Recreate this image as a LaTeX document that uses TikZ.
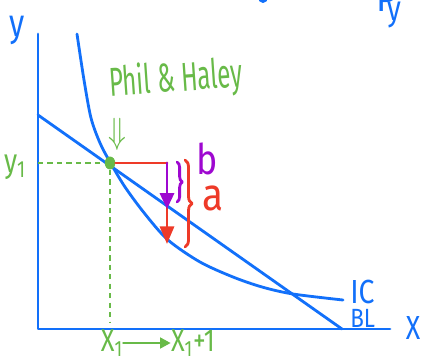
\documentclass[tikz,border=0pt]{standalone}
\usepackage{graphicx}
\usepackage{fontspec}
\setmainfont{Fira Sans}
\usetikzlibrary{arrows.meta, shapes.geometric, decorations.pathreplacing}
\definecolor{penBlue}{RGB}{18,112,250}
\definecolor{penGreen}{RGB}{104,186,72}
\definecolor{penRed}{RGB}{238,58,40}
\definecolor{penPurple}{RGB}{158,8,208}
\newcommand{\hand}[2]{\scalebox{#1}[1]{#2}}

\begin{document}
\begin{tikzpicture}[x=0.02cm, y=-0.02cm,
  pen/.style={line width=1.6pt, line cap=round, line join=round},
  guide/.style={penGreen, line width=1.4pt, dash pattern=on 3pt off 2.4pt},
  lbl/.style={inner sep=0pt, font=\fontsize{#1}{#1}\selectfont},
  lbl/.default=18]
\useasboundingbox (0,0) rectangle (422,361);
\clip (0,0) rectangle (422,361);
% axes
\coordinate (origin) at (38,329);
\coordinate (ytop) at (38,34);
\coordinate (xend) at (390,329);
\draw[pen, penBlue] (ytop) -- (origin) -- (xend);
\node[lbl=22, penBlue] (ylab) at (17,30) {\hand{0.8}{y}};
\node[lbl=19, penBlue] (xlab) at (413,328) {\hand{0.8}{X}};
% cut-off text at the top
\node[lbl=20, penBlue, anchor=base west] (pcut) at (376,12) {P};
\node[lbl=20, penBlue, anchor=base west] (ycut) at (387,21) {\hand{0.8}{y}};
\draw[pen, penBlue] (260,0) to[bend right=60] (266,0);
% budget line and indifference curve
\coordinate (bl0) at (38,115);
\coordinate (bl1) at (342,329);
\draw[pen, penBlue] (bl0) -- (bl1);
\draw[pen, penBlue] plot[smooth, tension=0.5] coordinates {(77,34) (84,80) (91,118) (100,143) (110,162) (125,187) (145,214) (168,240) (200,262) (233,277) (262,287) (293,294) (343,300)};
\node[lbl=19, penBlue, anchor=west] (IC) at (350,292) {\hand{0.85}{IC}};
\node[lbl=15, penBlue, anchor=west] (BL) at (350,318) {\hand{0.85}{BL}};
% bundle of Phil & Haley
\node[ellipse, fill=penGreen, inner sep=0pt, minimum width=0.21cm, minimum height=0.26cm] (P) at (110,163) {};
\coordinate (Py) at (38,163);
\coordinate (Px) at (110,322);
\draw[guide] (Py) -- (P);
\draw[guide] (P) -- (Px);
\node[lbl=23, penGreen, rotate=4] (names) at (176,80) {\hand{0.6}{Phil \& Haley}};
\node[lbl=20, penGreen] (down) at (117,134) {\hand{0.8}{$\Downarrow$}};
\node[lbl=19, penGreen] (y1) at (15,167) {\hand{0.8}{y\textsubscript{1}}};
\node[lbl=18, penGreen] (x1) at (112,343) {\hand{0.8}{X\textsubscript{1}}};
\node[lbl=18, penGreen] (x1n) at (193,343) {\hand{0.8}{X\textsubscript{1}+1}};
\draw[pen, penGreen, -{Triangle[length=6pt, width=6pt]}] (x1) -- (x1n);
% give up y for one more x
\coordinate (corner) at (167,163);
\coordinate (onIC) at (167,244);
\coordinate (onBL) at (167,209);
\draw[pen, penRed] (P) -- (corner);
\draw[pen, penRed, -{Triangle[length=10pt, width=8pt]}] (corner) -- (onIC);
\draw[pen, penPurple, -{Triangle[length=9pt, width=8pt]}] (corner) -- (onBL);
\draw[pen, penPurple, decorate, decoration={brace, amplitude=3pt}] (177,162) -- (177,202);
\draw[pen, penRed, decorate, decoration={brace, amplitude=4pt}] (185,160) -- (185,247);
\node[lbl=24, penPurple] (b) at (207,159) {\hand{0.85}{b}};
\node[lbl=26, penRed] (a) at (213,198) {\hand{0.85}{a}};
\end{tikzpicture}
\end{document}
